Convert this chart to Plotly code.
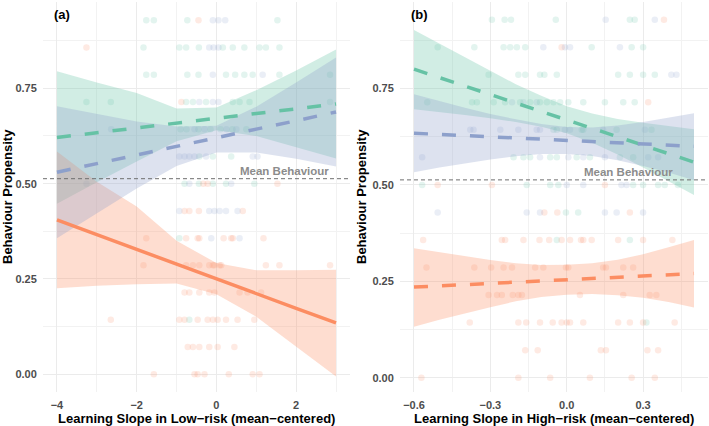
import plotly.graph_objects as go

# ---------------- DATA ----------------
GREEN = "#66C2A5"; ORANGE = "#FC8D62"; BLUE = "#8DA0CB"
MEAN_BEHAVIOUR = 0.513

# Panel (a): predictions vs Learning Slope in Low-risk
xa = [-4, -3, -2, -1, 0, 1, 2, 3]
a_green_fit = [0.621, 0.634, 0.646, 0.659, 0.671, 0.684, 0.696, 0.709]
a_green_hi  = [0.795, 0.765, 0.738, 0.697, 0.700, 0.745, 0.797, 0.852]
a_green_lo  = [0.447, 0.504, 0.558, 0.611, 0.640, 0.625, 0.596, 0.566]
a_blue_fit  = [0.530, 0.553, 0.575, 0.598, 0.620, 0.643, 0.665, 0.688]
a_blue_hi   = [0.703, 0.683, 0.663, 0.650, 0.652, 0.702, 0.765, 0.831]
a_blue_lo   = [0.357, 0.423, 0.487, 0.546, 0.582, 0.582, 0.565, 0.545]
a_orange_fit = [0.405, 0.366, 0.328, 0.289, 0.250, 0.212, 0.173, 0.135]
a_orange_hi  = [0.584, 0.505, 0.440, 0.350, 0.292, 0.273, 0.273, 0.274]
a_orange_lo  = [0.226, 0.232, 0.236, 0.238, 0.210, 0.151, 0.073, -0.006]

# Panel (b): predictions vs Learning Slope in High-risk
xb = [-0.6, -0.5, -0.4, -0.3, -0.2, -0.1, 0.0, 0.1, 0.2, 0.3, 0.4, 0.5]
b_green_fit = [0.800, 0.778, 0.756, 0.734, 0.712, 0.691, 0.669, 0.647, 0.625, 0.603, 0.581, 0.559]
b_green_hi  = [0.902, 0.867, 0.831, 0.795, 0.761, 0.731, 0.704, 0.685, 0.671, 0.661, 0.652, 0.644]
b_green_lo  = [0.696, 0.689, 0.681, 0.673, 0.663, 0.651, 0.634, 0.609, 0.579, 0.545, 0.510, 0.474]
b_blue_fit  = [0.634, 0.631, 0.628, 0.625, 0.622, 0.619, 0.615, 0.612, 0.609, 0.606, 0.603, 0.600]
b_blue_hi   = [0.735, 0.717, 0.700, 0.684, 0.670, 0.658, 0.650, 0.649, 0.654, 0.663, 0.674, 0.686]
b_blue_lo   = [0.533, 0.545, 0.556, 0.566, 0.574, 0.580, 0.580, 0.575, 0.564, 0.549, 0.532, 0.512]
b_orange_fit = [0.235, 0.238, 0.241, 0.244, 0.248, 0.251, 0.254, 0.257, 0.260, 0.264, 0.267, 0.270]
b_orange_hi  = [0.336, 0.326, 0.315, 0.305, 0.297, 0.292, 0.293, 0.297, 0.306, 0.320, 0.338, 0.357]
b_orange_lo  = [0.132, 0.150, 0.167, 0.183, 0.198, 0.209, 0.215, 0.217, 0.214, 0.207, 0.196, 0.182]

# raw participant points, panel (a): (x, level in 1/14 units)
a_pts_green = [(-1.76,13),(-1.57,13),(-0.73,13),(1.53,13),
    (-1.83,12),(-0.93,12),(-0.76,12),(-0.44,12),(0.16,12),(0.41,12),(0.7,12),(1.08,12),(1.24,12),(1.58,12),
    (-1.76,11),(-1.57,11),(-0.73,11),(-0.45,11),(0.24,11),(0.47,11),(0.7,11),(0.91,11),(1.58,11),(2.85,11),
    (-3.26,10),(-2.65,10),(-0.76,10),(-0.59,10),(-0.26,10),(0.41,10),(0.58,10),(0.83,10),(2.85,10),
    (-0.9,9),(-0.75,9),(-0.45,9),(-0.15,9),(0.1,9),(0.4,9),(0.75,9),
    (-0.43,8),(-0.09,8),(0.37,8),
    (-0.8,7),(-0.44,7),(-0.09,7),(0.24,7),(0.95,7),
    (-0.93,5),(-0.68,2)]
a_pts_blue = [(-0.09,13),(0.05,13),(0.22,13),
    (-0.18,12),(-0.07,12),(0.05,12),
    (-0.09,11),(1.16,11),
    (-0.43,10),(-0.09,10),(0.05,10),
    (-2.64,9),(-0.55,9),(-0.3,9),(0.25,9),(0.5,9),
    (-0.93,8),(-0.8,8),(-0.68,8),(-0.55,8),(-0.26,8),(0.91,8),(1.03,8),
    (-3.26,7),(-0.68,7),(0.37,7),
    (-0.93,6),(-0.18,6),(-0.05,6),(0.08,6),(0.24,6),(0.53,6),
    (-0.13,5),(0.58,5)]
a_pts_orange = [(-0.45,13),(-3.26,12),(-0.88,10),
    (-0.33,7),(-0.22,7),(1.53,7),
    (-0.8,6),(-0.68,6),(-0.44,6),(0.66,6),
    (-1.76,5),(-0.76,5),(-0.47,5),(-0.43,5),(0.18,5),(0.37,5),(0.41,5),(1.18,5),
    (-1.83,4),(-0.76,4),(-0.59,4),(-0.43,4),(-0.18,4),(-0.09,4),(-0.05,4),(0.08,4),(0.12,4),(1.24,4),(1.58,4),(2.85,4),
    (-0.8,3),(-0.68,3),(-0.43,3),(-0.18,3),(-0.05,3),(0.58,3),(0.78,3),(1.12,3),
    (-2.65,2),(-0.93,2),(-0.8,2),(-0.47,2),(-0.22,2),(-0.09,2),(0.03,2),(0.24,2),(0.53,2),(0.95,2),
    (-0.72,1),(-0.59,1),(-0.43,1),(-0.18,1),(0.03,1),(0.45,1),
    (-1.57,0),(-0.55,0),(-0.47,0),(-0.3,0),(0.31,0),(0.91,0),(1.08,0)]

# raw participant points, panel (b)
b_pts_green = [(-0.294,13),(-0.244,13),(-0.219,13),(-0.043,13),(0.248,13),(0.267,13),
    (-0.507,12),(-0.363,12),(-0.248,12),(-0.222,12),(-0.196,12),(-0.163,12),(0.098,12),(0.255,12),(0.3,12),
    (-0.307,11),(-0.19,11),(-0.163,11),(-0.105,11),(-0.088,11),(-0.039,11),(0.202,11),(0.248,11),(0.3,11),(0.346,11),
    (-0.548,10),(-0.372,10),(-0.353,10),(-0.287,10),(-0.242,10),(-0.183,10),(-0.144,10),(-0.105,10),(-0.078,10),
    (-0.052,10),(-0.026,10),(0.006,10),(0.065,10),(0.15,10),(0.222,10),(0.267,10),
    (-0.052,9),(-0.039,9),(0.059,9),(0.065,9),(0.196,9),(0.333,9),
    (-0.209,8),(-0.17,8),(-0.144,8),(-0.065,8),(-0.039,8),(0.039,8),(0.091,8),(0.209,8),(0.261,8),
    (-0.568,7),(-0.157,7),(-0.065,7),(-0.033,7),(0.261,7),(0.3,7),(0.359,7),(0.385,7),(0.437,7),
    (-0.003,6),(0.045,6),(-0.039,5),(0.248,5),(0.313,2)]
b_pts_blue = [(0.153,13),(0.346,13),
    (-0.092,12),(-0.007,12),(0.013,12),(0.209,12),
    (0.411,11),(0.431,11),
    (-0.215,10),(-0.17,10),(-0.118,10),
    (-0.379,9),(-0.366,9),(-0.261,9),(-0.19,9),(-0.118,9),(-0.105,9),(-0.007,9),(0.013,9),(0.143,9),(0.307,9),
    (-0.568,8),(-0.105,8),(0.006,8),(0.065,8),(0.15,8),(0.32,8),(0.359,8),
    (0.0,7),(0.065,7),(0.215,7),(0.235,7),
    (-0.507,6),(-0.157,6),(-0.105,6),(0.15,6),(0.196,6),(0.3,6)]
b_pts_orange = [(0.382,13),(-0.02,12),(0.32,10),
    (-0.507,7),(-0.294,7),(0.15,7),
    (-0.088,6),(-0.037,6),(0.248,6),
    (-0.564,5),(-0.255,5),(-0.242,5),(-0.17,5),(-0.107,5),(-0.069,5),(-0.02,5),(0.013,5),(0.056,5),(0.065,5),(0.098,5),(0.202,5),(0.3,5),(0.415,5),
    (-0.551,4),(-0.363,4),(-0.297,4),(-0.248,4),(-0.215,4),(-0.124,4),(-0.092,4),(-0.003,4),(0.006,4),(0.143,4),(0.154,4),(0.222,4),(0.261,4),
    (-0.307,3),(-0.274,3),(-0.255,3),(-0.212,3),(-0.19,3),(-0.176,3),(0.052,3),(0.222,3),(0.326,3),(0.352,3),
    (-0.381,2),(-0.19,2),(-0.159,2),(-0.105,2),(-0.055,2),(-0.02,2),(0.0,2),(0.013,2),(0.065,2),(0.202,2),(0.248,2),(0.3,2),(0.424,2),
    (-0.163,1),(-0.114,1),(0.134,1),(0.154,1),(0.317,1),(0.359,1),
    (-0.571,0),(-0.19,0),(-0.065,0),(0.091,0),(0.255,0),(0.346,0)]

a_xticks = [-4, -2, 0, 2]; a_xticklabels = ["−4", "−2", "0", "2"]
b_xticks = [-0.6, -0.3, 0.0, 0.3]; b_xticklabels = ["−0.6", "−0.3", "0.0", "0.3"]
yticks = [0, 0.25, 0.5, 0.75]; yticklabels = ["0.00", "0.25", "0.50", "0.75"]

# ---------------- FIGURE ----------------
def rgba(hexc, a):
    h = hexc.lstrip('#')
    return "rgba(%d,%d,%d,%s)" % (int(h[0:2],16), int(h[2:4],16), int(h[4:6],16), a)

fig = go.Figure()

def add_points(pts, color, xa_, ya_):
    fig.add_trace(go.Scatter(x=[p[0] for p in pts], y=[p[1]/14 for p in pts], mode="markers",
        marker=dict(color=color, size=6.5, opacity=0.18, line=dict(width=0)),
        xaxis=xa_, yaxis=ya_, showlegend=False, hoverinfo="skip"))

def add_ribbon(xs, lo, hi, color, xa_, ya_):
    fig.add_trace(go.Scatter(x=list(xs) + list(xs)[::-1], y=list(hi) + list(lo)[::-1],
        fill="toself", fillcolor=rgba(color, 0.3), line=dict(width=0), mode="lines",
        xaxis=xa_, yaxis=ya_, showlegend=False, hoverinfo="skip"))

def add_line(xs, ys, color, dash, xa_, ya_):
    fig.add_trace(go.Scatter(x=xs, y=ys, mode="lines", line=dict(color=color, width=3.5, dash=dash),
        xaxis=xa_, yaxis=ya_, showlegend=False, hoverinfo="skip"))

for pts, c in [(a_pts_green, GREEN), (a_pts_orange, ORANGE), (a_pts_blue, BLUE)]:
    add_points(pts, c, "x", "y")
for pts, c in [(b_pts_green, GREEN), (b_pts_orange, ORANGE), (b_pts_blue, BLUE)]:
    add_points(pts, c, "x2", "y2")

add_ribbon(xa, a_green_lo, a_green_hi, GREEN, "x", "y")
add_ribbon(xa, a_orange_lo, a_orange_hi, ORANGE, "x", "y")
add_ribbon(xa, a_blue_lo, a_blue_hi, BLUE, "x", "y")
add_ribbon(xb, b_green_lo, b_green_hi, GREEN, "x2", "y2")
add_ribbon(xb, b_orange_lo, b_orange_hi, ORANGE, "x2", "y2")
add_ribbon(xb, b_blue_lo, b_blue_hi, BLUE, "x2", "y2")

DASH = "14px,14px"
add_line(xa, a_green_fit, GREEN, DASH, "x", "y")
add_line(xa, a_orange_fit, ORANGE, "solid", "x", "y")
add_line(xa, a_blue_fit, BLUE, DASH, "x", "y")
add_line(xb, b_green_fit, GREEN, DASH, "x2", "y2")
add_line(xb, b_orange_fit, ORANGE, DASH, "x2", "y2")
add_line(xb, b_blue_fit, BLUE, DASH, "x2", "y2")

FONT = "Liberation Sans, Arial, Helvetica, sans-serif"
GRID = "#EBEBEB"
tickfont = dict(family=FONT, size=11, color="#4D4D4D")

def xaxis_cfg(domain, rng, tv, tt, dt_minor, anchor):
    return dict(domain=domain, range=rng, tickvals=tv, ticktext=["<b>%s</b>" % t for t in tt],
        showgrid=True, gridcolor=GRID, gridwidth=1, zeroline=False, showline=False,
        ticks="outside", ticklen=3, tickcolor="rgba(0,0,0,0)", tickfont=tickfont,
        minor=dict(showgrid=True, gridcolor="#F2F2F2", gridwidth=1, tick0=tv[0], dtick=dt_minor),
        anchor=anchor, automargin=False)

def yaxis_cfg(rng, anchor):
    return dict(domain=[0, 1], range=rng, tickvals=yticks, ticktext=["<b>%s</b>" % t for t in yticklabels],
        showgrid=True, gridcolor=GRID, gridwidth=1, zeroline=False, showline=False,
        ticks="outside", ticklen=3, tickcolor="rgba(0,0,0,0)", tickfont=tickfont,
        minor=dict(showgrid=True, gridcolor="#F2F2F2", gridwidth=1, tick0=0.125, dtick=0.25),
        anchor=anchor, automargin=False)

fig.update_layout(
    width=709, height=426, margin=dict(l=43, r=1, t=2, b=34),
    paper_bgcolor="white", plot_bgcolor="white",
    xaxis=xaxis_cfg([0, 0.46165], [-4.35, 3.35], a_xticks, a_xticklabels, 1, "y"),
    yaxis=yaxis_cfg([-0.0464, 0.9764], "x"),
    xaxis2=xaxis_cfg([0.53684, 1], [-0.655, 0.555], b_xticks, b_xticklabels, 0.15, "y2"),
    yaxis2=yaxis_cfg([-0.0371, 0.9743], "x2"),
    showlegend=False,
)

# mean behaviour reference lines
for xr, yr in [("x", "y"), ("x2", "y2")]:
    fig.add_shape(type="line", xref=xr + " domain", yref=yr, x0=0, x1=1, y0=MEAN_BEHAVIOUR, y1=MEAN_BEHAVIOUR,
                  line=dict(color="#6E6E6E", width=1, dash="4px,3px"))

ann_font = dict(family=FONT, size=11.5, color="#8C8C8C")
fig.add_annotation(x=2.873, y=0.533, xref="x", yref="y", text="<b>Mean Behaviour</b>", showarrow=False,
                   xanchor="right", yanchor="middle", font=ann_font)
fig.add_annotation(x=0.4255, y=0.533, xref="x2", yref="y2", text="<b>Mean Behaviour</b>", showarrow=False,
                   xanchor="right", yanchor="middle", font=ann_font)

title_font = dict(family=FONT, size=13, color="black")
fig.add_annotation(x=0.01353, y=0.9692, xref="paper", yref="paper", text="<b>(a)</b>", showarrow=False,
                   xanchor="left", yanchor="middle", font=title_font)
fig.add_annotation(x=0.5504, y=0.9692, xref="paper", yref="paper", text="<b>(b)</b>", showarrow=False,
                   xanchor="left", yanchor="middle", font=title_font)
fig.add_annotation(x=0.2308, y=-0.0692, xref="paper", yref="paper",
                   text="<b>Learning Slope in Low−risk (mean−centered)</b>", showarrow=False,
                   xanchor="center", yanchor="middle", font=title_font)
fig.add_annotation(x=0.7684, y=-0.0692, xref="paper", yref="paper",
                   text="<b>Learning Slope in High−risk (mean−centered)</b>", showarrow=False,
                   xanchor="center", yanchor="middle", font=title_font)
fig.add_annotation(x=(7 - 43) / 665, y=0.5, xref="paper", yref="paper", text="<b>Behaviour Propensity</b>",
                   showarrow=False, textangle=-90, xanchor="center", yanchor="middle", font=title_font)
fig.add_annotation(x=(361 - 43) / 665, y=0.5, xref="paper", yref="paper", text="<b>Behaviour Propensity</b>",
                   showarrow=False, textangle=-90, xanchor="center", yanchor="middle", font=title_font)

fig.write_html("out.html")
